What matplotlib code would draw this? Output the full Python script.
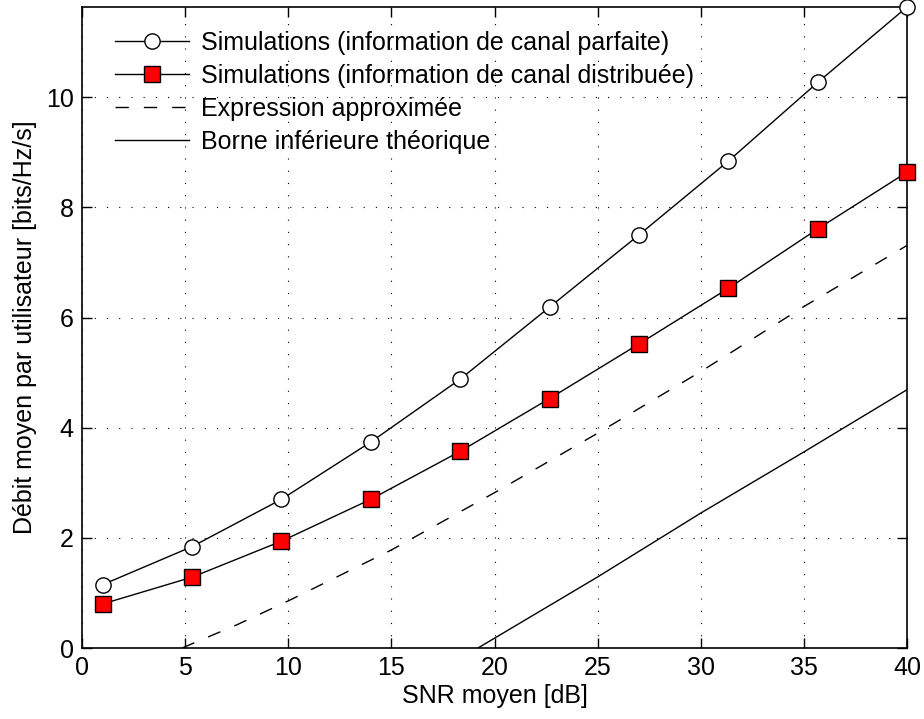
import numpy as np
import matplotlib
matplotlib.use("Agg")
import matplotlib.pyplot as plt

plt.rcParams["font.family"] = ["Liberation Sans", "DejaVu Sans"]

# SNR points of the simulations
snr = [1, 5.33, 9.67, 14, 18.33, 22.67, 27, 31.33, 35.67, 40]
perfect = [1.15, 1.84, 2.70, 3.74, 4.88, 6.19, 7.50, 8.84, 10.27, 11.64]
distributed = [0.80, 1.285, 1.94, 2.70, 3.57, 4.53, 5.52, 6.53, 7.61, 8.64]

# approximate expression
approx_snr = [4.85, 7.5, 10, 15, 20, 25, 30, 35, 40]
approx = [0.0, 0.42, 0.855, 1.78, 2.82, 3.90, 5.02, 6.20, 7.31]

# theoretical lower bound
bound_snr = [19.2, 25, 30, 35, 40]
bound = [0.0, 1.29, 2.45, 3.56, 4.69]

labels = ["Simulations (information de canal parfaite)",
          "Simulations (information de canal distribuée)",
          "Expression approximée",
          "Borne inférieure théorique"]

fs = 18

fig = plt.figure(figsize=(9.24, 7.19), dpi=100)
ax = fig.add_axes([82/924, 1 - 648/719, 825/924, 641/719])

ax.plot(snr, perfect, "-o", color="black", lw=1.0, ms=11, clip_on=False,
        mfc="white", mec="black", mew=1.0, label=labels[0], zorder=3)
ax.plot(snr, distributed, "-s", color="black", lw=1.0, ms=11, clip_on=False,
        mfc="red", mec="black", mew=1.0, label=labels[1], zorder=3)
ax.plot(approx_snr, approx, color="black", lw=1.0,
        linestyle=(0, (9.6, 10.8)), label=labels[2])
ax.plot(bound_snr, bound, color="black", lw=1.0, label=labels[3])

ax.set_xlim(0, 40)
ax.set_ylim(0, 11.64)
ax.set_xticks(np.arange(0, 41, 5))
ax.set_yticks(np.arange(0, 11, 2))
ax.grid(True, color="black", lw=0.8, linestyle=(0, (1, 10)))
ax.tick_params(direction="in", length=7, width=1.0, top=True, right=True,
               labelsize=fs, pad=6)
for s in ax.spines.values():
    s.set_linewidth(1.2)

ax.set_xlabel("SNR moyen [dB]", fontsize=fs, labelpad=3)
ax.set_ylabel("Débit moyen par utilisateur [bits/Hz/s]", fontsize=fs, labelpad=6)

ax.legend(loc="upper left", bbox_to_anchor=(0.04, 0.963), frameon=False,
          fontsize=fs, handlelength=2.95, handletextpad=0.48,
          labelspacing=0.36, borderpad=0, borderaxespad=0)

fig.savefig("out.png", dpi=100)
